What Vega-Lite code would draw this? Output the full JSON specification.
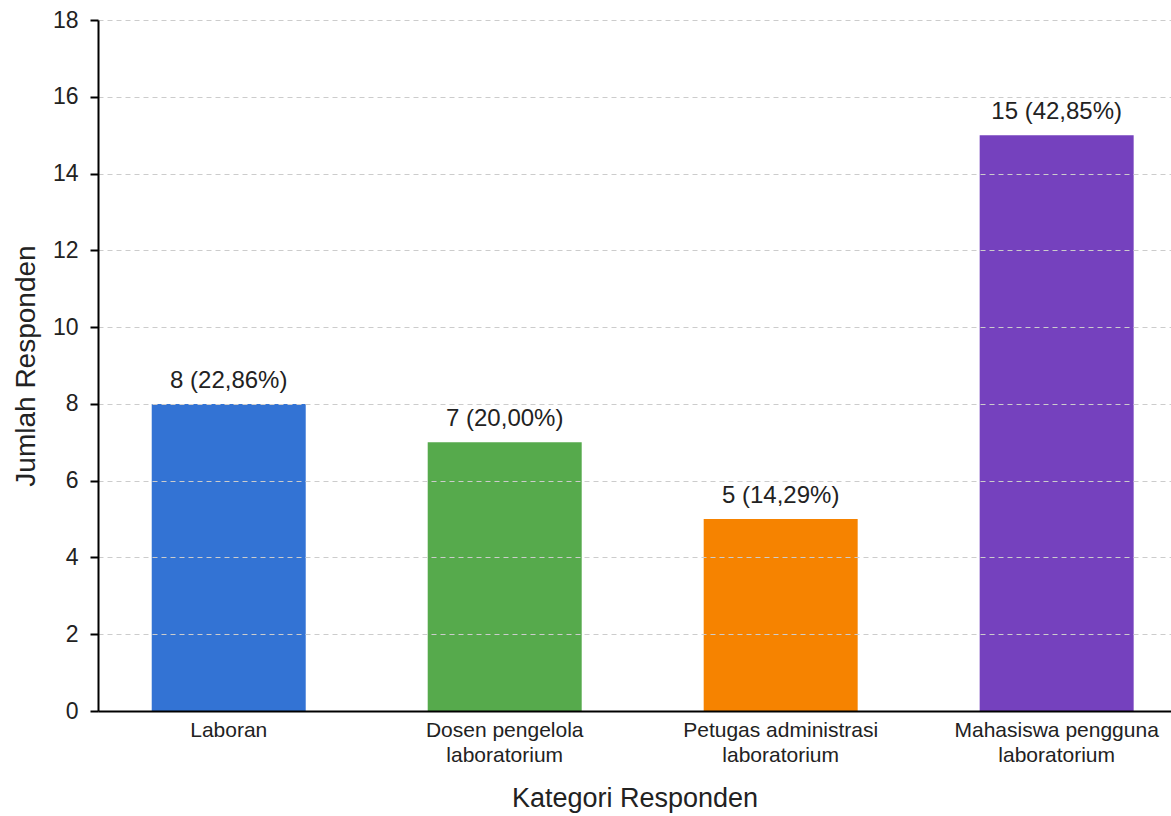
{
  "$schema": "https://vega.github.io/schema/vega-lite/v6.json",
  "autosize": {"type": "none"},
  "width": 1073,
  "height": 691,
  "padding": {"left": 98, "top": 20, "right": 0, "bottom": 105},
  "background": "white",
  "config": {
    "view": {"stroke": null},
    "font": "Liberation Sans"
  },
  "data": {
    "values": [
      {"kategori": "Laboran", "jumlah": 8, "label": "8 (22,86%)"},
      {"kategori": "Dosen pengelola laboratorium", "jumlah": 7, "label": "7 (20,00%)"},
      {"kategori": "Petugas administrasi laboratorium", "jumlah": 5, "label": "5 (14,29%)"},
      {"kategori": "Mahasiswa pengguna laboratorium", "jumlah": 15, "label": "15 (42,85%)"}
    ]
  },
  "encoding": {
    "x": {
      "field": "kategori",
      "type": "nominal",
      "sort": null,
      "scale": {"paddingInner": 0.442, "paddingOuter": 0.165, "align": 0.59},
      "axis": {
        "title": "Kategori Responden",
        "titleFont": "Liberation Sans",
        "titleFontSize": 27,
        "titleFontWeight": "normal",
        "titleColor": "#222222",
        "titlePadding": 20,
        "labelAngle": 0,
        "labelFont": "Liberation Sans",
        "labelFontSize": 21,
        "labelColor": "#222222",
        "labelLineHeight": 25,
        "labelPadding": 8,
        "labelLimit": 0,
        "labelExpr": "indexof(datum.label, ' laboratorium') > 0 ? [replace(datum.label, ' laboratorium', ''), 'laboratorium'] : datum.label",
        "ticks": false,
        "tickSize": 0,
        "domainColor": "#000000",
        "domainWidth": 2,
        "grid": false,
        "zindex": 1
      }
    },
    "y": {
      "field": "jumlah",
      "type": "quantitative",
      "scale": {"domain": [0, 18], "nice": false},
      "axis": {
        "title": "Jumlah Responden",
        "titleFont": "Liberation Sans",
        "titleFontSize": 28,
        "titleFontWeight": "normal",
        "titleColor": "#222222",
        "titlePadding": 12,
        "values": [0, 2, 4, 6, 8, 10, 12, 14, 16, 18],
        "labelFont": "Liberation Sans",
        "labelFontSize": 23,
        "labelColor": "#222222",
        "labelPadding": 12,
        "tickSize": 8,
        "tickWidth": 2,
        "tickColor": "#000000",
        "domainColor": "#000000",
        "domainWidth": 2,
        "grid": true,
        "gridColor": "#cccccc",
        "gridDash": [5, 4],
        "gridWidth": 1,
        "zindex": 1
      }
    }
  },
  "layer": [
    {
      "mark": {"type": "bar"},
      "encoding": {
        "color": {
          "field": "kategori",
          "type": "nominal",
          "sort": null,
          "scale": {
            "domain": ["Laboran", "Dosen pengelola laboratorium", "Petugas administrasi laboratorium", "Mahasiswa pengguna laboratorium"],
            "range": ["#3373D4", "#56AA4C", "#F68300", "#7541BE"]
          },
          "legend": null
        }
      }
    },
    {
      "mark": {"type": "text", "baseline": "alphabetic", "dy": -16, "fontSize": 24, "font": "Liberation Sans", "color": "#222222"},
      "encoding": {
        "text": {"field": "label"}
      }
    }
  ]
}
